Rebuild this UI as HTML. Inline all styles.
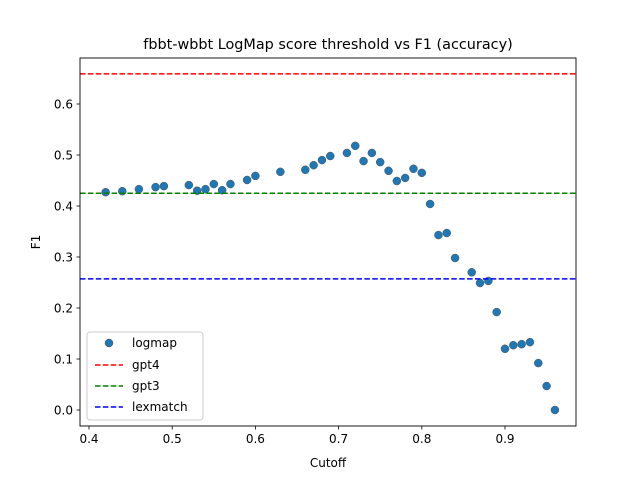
<!DOCTYPE html>
<html><head><meta charset="utf-8"><style>body{margin:0;background:#fff}svg{font-family:"DejaVu Sans","Liberation Sans",sans-serif}</style></head>
<body>
<svg id="chart" width="640" height="480">
<rect width="640" height="480" fill="#fff"/>
<text x="328" y="49" font-size="14.4" text-anchor="middle">fbbt-wbbt LogMap score threshold vs F1 (accuracy)</text>
<g id="plot"></g>
<rect x="80" y="58" width="496" height="368" fill="none" stroke="#000" stroke-width="0.9"/>
<text x="328" y="467" font-size="12" text-anchor="middle">Cutoff</text>
<text transform="translate(40,242) rotate(-90)" font-size="12" text-anchor="middle">F1</text>
<g>
<rect x="87" y="332" width="116" height="88" rx="3" fill="#fff" fill-opacity="0.8" stroke="#ccc"/>
<circle cx="109" cy="343" r="4" fill="#1f77b4" stroke="#555" stroke-width="0.5"/>
<text x="132" y="347" font-size="12">logmap</text>
<line x1="95" y1="365" x2="123" y2="365" stroke="red" stroke-width="1.5" stroke-dasharray="5.5,2.4"/>
<text x="132" y="369" font-size="12">gpt4</text>
<line x1="95" y1="386" x2="123" y2="386" stroke="green" stroke-width="1.5" stroke-dasharray="5.5,2.4"/>
<text x="132" y="390" font-size="12">gpt3</text>
<line x1="95" y1="407" x2="123" y2="407" stroke="blue" stroke-width="1.5" stroke-dasharray="5.5,2.4"/>
<text x="132" y="411" font-size="12">lexmatch</text>
</g>
</svg>
<script>
const cutoffs=[0.42,0.44,0.46,0.48,0.49,0.52,0.53,0.54,0.55,0.56,0.57,0.59,0.60,0.63,0.66,0.67,0.68,0.69,0.71,0.72,0.73,0.74,0.75,0.76,0.77,0.78,0.79,0.80,0.81,0.82,0.83,0.84,0.86,0.87,0.88,0.89,0.90,0.91,0.92,0.93,0.94,0.95,0.96];
const f1=[0.427,0.429,0.433,0.437,0.439,0.441,0.43,0.433,0.443,0.431,0.443,0.451,0.459,0.467,0.471,0.48,0.49,0.498,0.504,0.518,0.488,0.504,0.486,0.469,0.449,0.455,0.473,0.465,0.404,0.343,0.347,0.298,0.27,0.249,0.253,0.192,0.12,0.127,0.129,0.133,0.092,0.047,0.0];
const baselineNames=['gpt4','gpt3','lexmatch'];
const baselineValues=[0.659,0.425,0.257];
const baselineColors=['red','green','blue'];
const xTicks=[0.4,0.5,0.6,0.7,0.8,0.9];
const yTicks=[0.0,0.1,0.2,0.3,0.4,0.5,0.6];
const X=v=>89+(v-0.4)*832, Y=v=>410-v*510;
const NS='http://www.w3.org/2000/svg', g=document.getElementById('plot');
function mk(t,a){const e=document.createElementNS(NS,t);for(const k in a)e.setAttribute(k,a[k]);g.appendChild(e);return e;}
xTicks.forEach(t=>{const l=mk('line',{x1:X(t),x2:X(t),y1:426,y2:429.5,stroke:'#000','stroke-width':0.8});


const s=mk('text',{x:X(t),y:443,'font-size':12,'text-anchor':'middle'});s.textContent=t.toFixed(1);

});
yTicks.forEach(t=>{const l=mk('line',{x1:76.5,x2:80,y1:Y(t),y2:Y(t),stroke:'#000','stroke-width':0.8});


const s=mk('text',{x:73,y:Y(t)+4.5,'font-size':12,'text-anchor':'end'});s.textContent=t.toFixed(1);

});
cutoffs.forEach((c,i)=>{const p=mk('circle',{cx:X(c),cy:Y(f1[i]),r:4,fill:'#1f77b4',stroke:'#555','stroke-width':0.5});

});
baselineValues.forEach((v,i)=>{const l=mk('line',{x1:80,x2:576,y1:Y(v),y2:Y(v),stroke:baselineColors[i],'stroke-width':1.5,'stroke-dasharray':'5.5,2.4'});

});
</script>
</body></html>
